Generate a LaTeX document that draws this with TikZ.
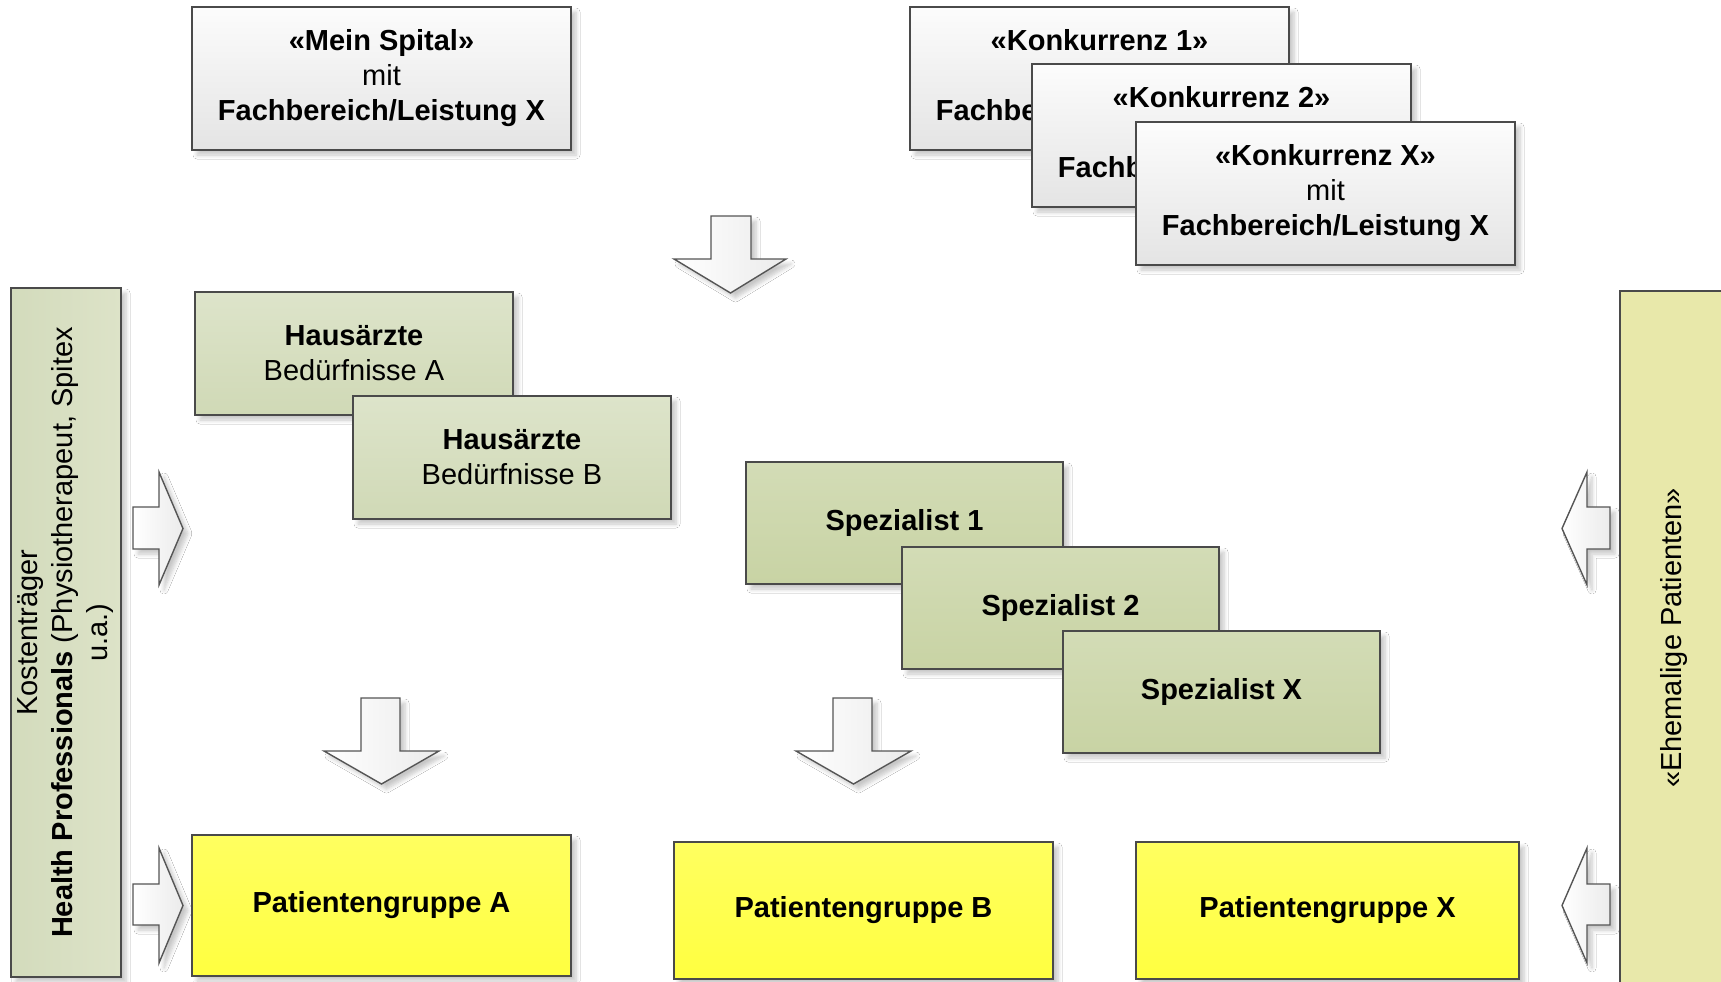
\documentclass[tikz,border=0pt]{standalone}
\usepackage{fontspec}
\setmainfont{Liberation Sans}
\usetikzlibrary{shadows.blur}
\definecolor{bordc}{HTML}{4A4A4A}
\definecolor{grayTop}{HTML}{FCFCFC}
\definecolor{grayBot}{HTML}{E4E4E4}
\definecolor{hausTop}{HTML}{DDE4CA}
\definecolor{hausBot}{HTML}{D0D9B6}
\definecolor{spezTop}{HTML}{D3DCB6}
\definecolor{spezBot}{HTML}{C8D3A4}
\definecolor{kostL}{HTML}{D3DBBC}
\definecolor{kostR}{HTML}{DDE3C8}
\definecolor{patTop}{HTML}{FFFF60}
\definecolor{patBot}{HTML}{FFFF40}
\definecolor{ehemC}{HTML}{E8E8AA}
\definecolor{arrTop}{HTML}{FFFFFF}
\definecolor{arrBot}{HTML}{EBEBEB}
\definecolor{arrBord}{HTML}{555555}
\tikzset{
  softshadow/.style={blur shadow={shadow xshift=5pt, shadow yshift=-5pt, shadow blur steps=6, shadow blur radius=4pt, shadow opacity=22}},
  box/.style={draw=bordc, line width=1.6pt, anchor=north west, inner sep=0pt, outer sep=0pt,
    align=center, font=\fontsize{29}{35}\selectfont, softshadow},
  graybox/.style={box, top color=grayTop, bottom color=grayBot},
  hausbox/.style={box, top color=hausTop, bottom color=hausBot, minimum width=318pt, minimum height=123pt},
  spezbox/.style={box, top color=spezTop, bottom color=spezBot, minimum width=317pt, minimum height=122pt},
  patbox/.style={box, top color=patTop, bottom color=patBot},
  konkbox/.style={graybox, minimum width=379pt, minimum height=143pt},
  blockarrow/.style={draw=arrBord, line width=1.4pt, line join=miter, left color=arrTop, right color=arrBot, softshadow},
  sidetext/.style={rotate=90, align=center, font=\fontsize{29}{35}\selectfont}
}
\begin{document}
\begin{tikzpicture}[x=1pt, y=-1pt]
\clip (0,0) rectangle (1721,982);
\fill[white] (0,0) rectangle (1721,982);

% top row
\node[konkbox] (spital) at (192,7) {\bfseries «Mein Spital»\\mit\\\bfseries Fachbereich/Leistung X};
\node[konkbox] (k1) at (910,7) {\bfseries «Konkurrenz 1»\\mit\\\bfseries Fachbereich/Leistung X};
\node[konkbox] (k2) at (1032,64) {\bfseries «Konkurrenz 2»\\mit\\\bfseries Fachbereich/Leistung X};
\node[konkbox] (kx) at (1136,122) {\bfseries «Konkurrenz X»\\mit\\\bfseries Fachbereich/Leistung X};

% top down arrow
\draw[blockarrow] (711,216) -- (751,216) -- (751,259) -- (786,259) -- (730.5,293) -- (674,259) -- (711,259) -- cycle;

% left side box
\node[box, left color=kostL, right color=kostR, minimum width=110pt, minimum height=689pt] (kost) at (11,288) {};
\node[sidetext] (kosttext) at (kost.center) {Kostenträger\\\textbf{Health Professionals} (Physiotherapeut, Spitex\\u.a.)};

% right side box
\node[box, fill=ehemC, minimum width=110pt, minimum height=710pt] (ehem) at (1620,291) {};
\node[sidetext] (ehemtext) at (1674,638) {«Ehemalige Patienten»};

% Hausaerzte
\node[hausbox] (hA) at (195,292) {\bfseries Hausärzte\\Bedürfnisse A};
\node[hausbox] (hB) at (353,396) {\bfseries Hausärzte\\Bedürfnisse B};

% Spezialisten
\node[spezbox] (s1) at (746,462) {\bfseries Spezialist 1};
\node[spezbox] (s2) at (902,547) {\bfseries Spezialist 2};
\node[spezbox] (sx) at (1063,631) {\bfseries Spezialist X};

% side arrows (left)
\draw[blockarrow] (133,507) -- (159,507) -- (159,472) -- (183,528.5) -- (159,585) -- (159,549) -- (133,549) -- cycle;
\draw[blockarrow] (133,884) -- (159,884) -- (159,848) -- (183,905.5) -- (159,963) -- (159,925) -- (133,925) -- cycle;
% side arrows (right)
\draw[blockarrow] (1610,507) -- (1587,507) -- (1587,472) -- (1562,528.5) -- (1587,585) -- (1587,549) -- (1610,549) -- cycle;
\draw[blockarrow] (1610,884) -- (1587,884) -- (1587,848) -- (1562,905.5) -- (1587,963) -- (1587,925) -- (1610,925) -- cycle;

% lower down arrows
\draw[blockarrow] (361,698) -- (400,698) -- (400,751) -- (439,751) -- (381.5,784) -- (324,751) -- (361,751) -- cycle;
\draw[blockarrow] (833,698) -- (872,698) -- (872,751) -- (911,751) -- (853.5,784) -- (796,751) -- (833,751) -- cycle;

% patient groups
\node[patbox, minimum width=379pt, minimum height=141pt] (pA) at (192,835) {\bfseries Patientengruppe A};
\node[patbox, minimum width=379pt, minimum height=137pt] (pB) at (674,842) {\bfseries Patientengruppe B};
\node[patbox, minimum width=383pt, minimum height=137pt] (pX) at (1136,842) {\bfseries Patientengruppe X};
\end{tikzpicture}
\end{document}
